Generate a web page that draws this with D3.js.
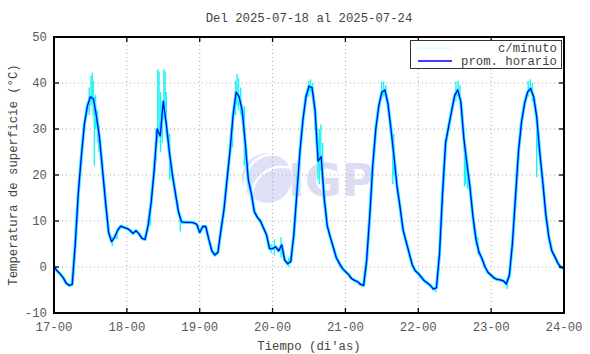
<!DOCTYPE html>
<html>
<head>
<meta charset="utf-8">
<script src="https://cdn.jsdelivr.net/npm/d3@7"></script>
<style>
body { margin: 0; background: #fff; }
text { font-family: "Liberation Mono", "DejaVu Sans Mono", monospace; }
</style>
</head>
<body>
<div id="chart"></div>
<script>
// hourly averages (deg C), one array per day, starting at hh=00
var day17 = [0, -0.8, -1.5, -2.3, -3.5, -4, -3.8, 5, 16, 24, 31, 35, 37, 36.5, 32.7, 28, 21, 14, 7.5, 5.5, 6.5, 8, 8.9, 8.6];
var day18 = [8.4, 8, 7.3, 7.9, 7.2, 6.2, 6, 9, 14, 21, 30, 28.5, 36, 31, 25, 20, 16, 12, 9.8, 9.7, 9.7, 9.7, 9.6, 9.3];
var day19 = [7.5, 8.8, 8.8, 6, 3.5, 2.6, 3.2, 8, 12.5, 19, 25.4, 33, 38, 37, 34, 27, 19, 16, 12, 10.8, 10, 8.5, 7, 4];
var day20 = [4, 4.4, 3.5, 4.8, 1.5, 0.7, 1.2, 7, 16, 25, 32, 37, 39.3, 39, 34, 23, 24, 15, 9, 6.5, 4.3, 2, 0.8, -0.3];
var day21 = [-1, -1.6, -2.5, -2.9, -3.2, -3.8, -4, 1.5, 11, 22, 30, 35, 38, 38.5, 35.5, 30, 24, 17.5, 13, 8, 5.5, 3, 0.5, -0.8];
var day22 = [-1.4, -2.2, -3, -3.5, -4, -4.8, -4.5, 3, 16, 27, 30.5, 34, 37.3, 38.5, 36, 28, 22.5, 17.5, 11, 6, 3.2, 1.8, 0, -1.2];
var day23 = [-1.8, -2.4, -2.7, -2.8, -3, -3.7, -1.8, 5, 15, 25, 31.5, 35.5, 38, 38.8, 37, 32.7, 25, 18.5, 11.5, 6.5, 3.5, 2.2, 0.8, -0.1];
var lastValue = -0.3; // 24-00

// per-minute excursions: [hour from 17-00, low, high]
var minutoSpikes = [
  [11.6, 33, 39], [12.2, 35, 41.5], [12.6, 36, 42.3], [12.9, 33, 40.5], [13.3, 22, 37],
  [13.7, 30, 37.5], [14.4, 27, 34], [14.8, 25, 31], [19.2, 4.5, 6.5], [20.8, 6, 8],
  [31.8, 9, 13], [33.6, 23, 30], [34.2, 27, 43], [34.6, 30, 42.5], [35.1, 25, 38],
  [35.7, 27, 34], [36.2, 32, 43], [36.6, 33, 42.5], [37.0, 28, 38], [38.1, 19, 29], [41.6, 7.7, 10.5],
  [58.8, 26, 32], [59.8, 33, 40.5], [60.3, 35, 42], [60.8, 34, 41], [61.5, 33, 39], [62.7, 22, 35],
  [71.5, 3, 5], [72.6, 2.5, 6], [74.8, 2, 6.5], [77.3, 0, 2],
  [83.9, 37, 40.5], [84.5, 38, 40.8], [85.2, 36, 40], [86.9, 19, 28], [87.4, 18, 30], [87.9, 21, 31], [88.5, 22, 27],
  [107.9, 36.5, 40.3], [108.6, 37, 40.3], [109.3, 36.5, 39.5], [111.6, 18, 28], [111.9, 20, 29],
  [125.8, -5.5, -3.5], [132.4, 36, 40.3], [133.1, 37, 40.5], [133.7, 36, 39.5],
  [135.2, 17.5, 27], [135.6, 18, 25], [136.2, 17, 24], [139.6, 3, 6.5],
  [149.3, -4.8, -2.5], [156.2, 37, 40.5], [156.9, 38, 40.8], [157.6, 36, 40], [159.0, 19.5, 33], [159.3, 26, 32]
];

var dayLabels = ["17-00", "18-00", "19-00", "20-00", "21-00", "22-00", "23-00", "24-00"];
var yTicks = [-10, 0, 10, 20, 30, 40, 50];
var titleText = "Del 2025-07-18 al 2025-07-24";
var legendNames = ["c/minuto", "prom. horario"];

var w = 590, h = 354;
var margin = {top: 37, right: 26, bottom: 41, left: 54};

var svg = d3.select("#chart").append("svg")
    .attr("width", w)
    .attr("height", h);

var x = d3.scaleLinear().domain([0, 168]).range([margin.left, w - margin.right]);
var y = d3.scaleLinear().domain([-10, 50]).range([h - margin.bottom, margin.top]);

// build hourly series
var hourly = [];
[day17, day18, day19, day20, day21, day22, day23].forEach(function(day, d) {
    day.forEach(function(v, hh) { hourly.push([d * 24 + hh, v]); });
});
hourly.push([168, lastValue]);

// watermark
var wm = svg.append("g");
wm.append("circle").attr("cx", 267).attr("cy", 178).attr("r", 25).attr("fill", "#dfe2f6");
wm.append("path").attr("d", "M244,186 A34,34 0 0,0 268,203 A25,25 0 0,1 244,186").attr("fill", "#e6f2fd");
wm.append("path").attr("d", "M246,190 A28,28 0 0,1 279,155").attr("fill", "none").attr("stroke", "#fff").attr("stroke-width", 2.5);
wm.append("path").attr("d", "M252,199 A30,30 0 0,1 290,168").attr("fill", "none").attr("stroke", "#fff").attr("stroke-width", 2.5);
wm.append("text").attr("x", 288).attr("y", 196)
    .style("font-family", "'DejaVu Sans', sans-serif")
    .style("font-weight", "bold").style("font-size", "45px")
    .attr("fill", "#dcdcf3").text("IGP");

// grid
var grid = svg.append("g")
    .attr("stroke", "#a8a8a8").attr("stroke-width", 1).attr("stroke-dasharray", "1,3");
d3.range(1, 7).forEach(function(i) {
    grid.append("line")
        .attr("x1", x(i * 24)).attr("x2", x(i * 24))
        .attr("y1", y(50)).attr("y2", y(-10));
});
yTicks.slice(1, -1).forEach(function(t) {
    grid.append("line")
        .attr("x1", x(0)).attr("x2", x(168))
        .attr("y1", y(t)).attr("y2", y(t));
});

// per-minute trace
var line = d3.line().x(function(d) { return x(d[0]); }).y(function(d) { return y(d[1]); });

svg.append("path").datum(hourly)
    .attr("d", line)
    .attr("fill", "none")
    .attr("stroke", "#1ff2f2")
    .attr("stroke-width", 3.2)
    .attr("stroke-linejoin", "round");

svg.append("g").selectAll("line")
    .data(minutoSpikes)
    .enter().append("line")
    .attr("x1", function(d) { return x(d[0]); })
    .attr("x2", function(d) { return x(d[0]); })
    .attr("y1", function(d) { return y(d[1]); })
    .attr("y2", function(d) { return y(d[2]); })
    .attr("stroke", "#1ff2f2")
    .attr("stroke-width", 1.4);

// hourly mean
svg.append("path").datum(hourly)
    .attr("d", line)
    .attr("fill", "none")
    .attr("stroke", "#0000ff")
    .attr("stroke-width", 1.3)
    .attr("stroke-linejoin", "round");

// frame and ticks
svg.append("rect")
    .attr("x", x(0)).attr("y", y(50))
    .attr("width", x(168) - x(0)).attr("height", y(-10) - y(50))
    .attr("fill", "none").attr("stroke", "#000").attr("stroke-width", 2);

var ticks = svg.append("g").attr("stroke", "#000").attr("stroke-width", 1.3);
yTicks.forEach(function(t) {
    ticks.append("line").attr("x1", x(0)).attr("x2", x(0) + 5).attr("y1", y(t)).attr("y2", y(t));
    ticks.append("line").attr("x1", x(168)).attr("x2", x(168) - 5).attr("y1", y(t)).attr("y2", y(t));
});
dayLabels.forEach(function(l, i) {
    ticks.append("line").attr("x1", x(i * 24)).attr("x2", x(i * 24)).attr("y1", y(-10)).attr("y2", y(-10) - 5);
    ticks.append("line").attr("x1", x(i * 24)).attr("x2", x(i * 24)).attr("y1", y(50)).attr("y2", y(50) + 5);
});

var fs = "12.3px";
var labelColor = "#5a5a5a";
var textColor = "#444";

svg.append("g").selectAll("text")
    .data(yTicks).enter().append("text")
    .attr("x", x(0) - 7)
    .attr("y", function(d) { return y(d) + 4; })
    .attr("text-anchor", "end")
    .style("font-size", fs).attr("fill", labelColor)
    .text(function(d) { return d; });

svg.append("g").selectAll("text")
    .data(dayLabels).enter().append("text")
    .attr("x", function(d, i) { return x(i * 24); })
    .attr("y", y(-10) + 18)
    .attr("text-anchor", "middle")
    .style("font-size", fs).attr("fill", labelColor)
    .text(function(d) { return d; });

svg.append("text")
    .attr("x", (x(0) + x(168)) / 2).attr("y", 22)
    .attr("text-anchor", "middle")
    .style("font-size", fs).attr("fill", textColor)
    .text(titleText);

svg.append("text")
    .attr("x", (x(0) + x(168)) / 2).attr("y", 350)
    .attr("text-anchor", "middle")
    .style("font-size", fs).attr("fill", textColor)
    .text("Tiempo (di'as)");

svg.append("text")
    .attr("transform", "translate(17," + ((y(50) + y(-10)) / 2) + ") rotate(-90)")
    .attr("text-anchor", "middle")
    .style("font-size", fs).attr("fill", textColor)
    .text("Temperatura de superficie (°C)");

// legend
var leg = svg.append("g");
leg.append("rect")
    .attr("x", 410.5).attr("y", 40.5).attr("width", 151).attr("height", 28)
    .attr("fill", "#fff").attr("stroke", "#333").attr("stroke-width", 1);
var legColors = ["#b8ffff", "#0000ff"];
legendNames.forEach(function(n, i) {
    var ly = 48 + i * 13;
    leg.append("line").attr("x1", 418).attr("x2", 452).attr("y1", ly).attr("y2", ly)
        .attr("stroke", legColors[i]).attr("stroke-width", i ? 1.3 : 1);
    leg.append("text").attr("x", 557).attr("y", ly + 4)
        .attr("text-anchor", "end")
        .style("font-size", fs).attr("fill", textColor)
        .text(n);
});
</script>
</body>
</html>
